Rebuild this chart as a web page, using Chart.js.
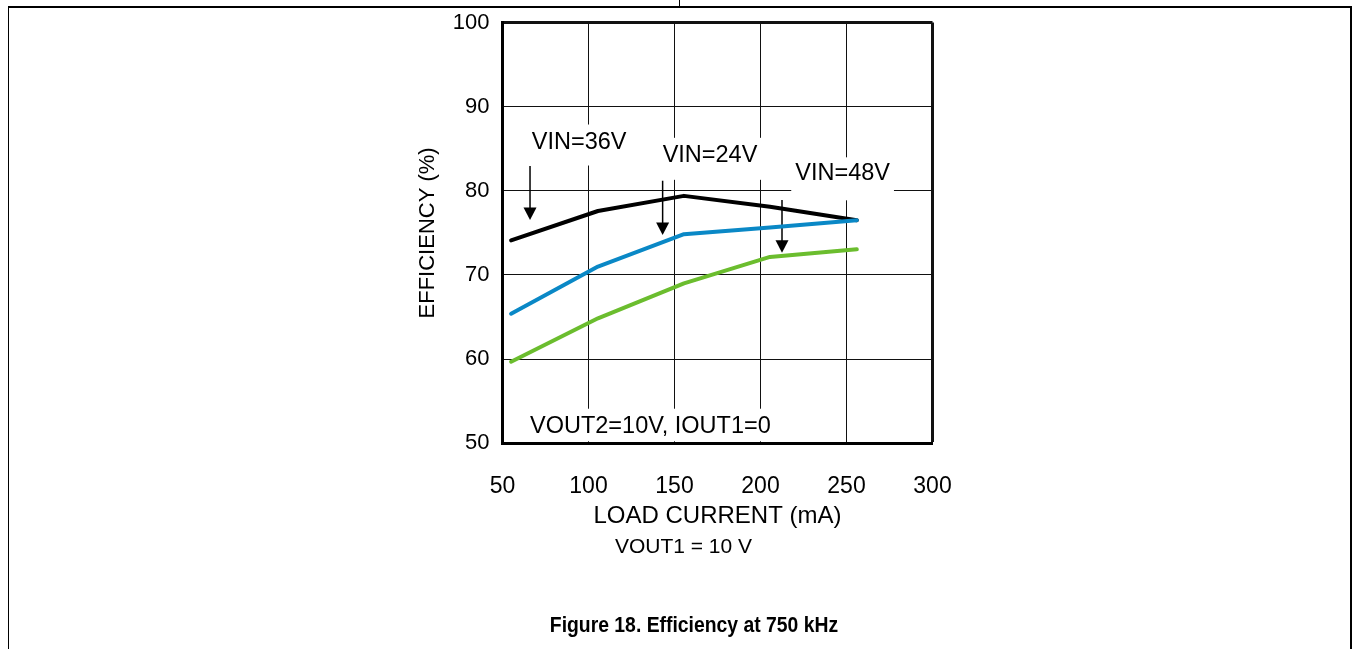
<!DOCTYPE html>
<html><head><meta charset="utf-8">
<script src="https://cdn.jsdelivr.net/npm/chart.js@4.4.1/dist/chart.umd.min.js"></script>
<style>
html,body{margin:0;padding:0;background:#fff;}
#wrap{position:relative;width:1357px;height:649px;overflow:hidden;background:#fff;font-family:"Liberation Sans",Arial,sans-serif;}
#c{position:absolute;left:0;top:0;}
.ln{position:absolute;background:#000;}
.txt{position:absolute;white-space:nowrap;color:#000;line-height:1;}
</style></head><body>
<div id="wrap">
<canvas id="c" width="1357" height="649"></canvas>
<div class="ln" style="left:8px;top:6px;width:1343px;height:1.5px"></div>
<div class="ln" style="left:678.5px;top:0;width:1.2px;height:7px"></div>
<div class="ln" style="left:7.5px;top:6px;width:1.5px;height:643px"></div>
<div class="ln" style="left:1350px;top:6px;width:1.5px;height:643px"></div>
<div class="txt" style="left:683.5px;top:545px;font-size:21px;transform:translate(-50%,-50%)">VOUT1 = 10 V</div>
<div class="txt" style="left:694px;top:625px;font-size:22px;font-weight:bold;transform:translate(-50%,-50%) scaleX(0.88)">Figure 18. Efficiency at 750 kHz</div>
</div>
<script>
// ---- data ----
const loadCurrent = [55, 105.5, 155.5, 205.5, 256];          // mA
const effVin24 = [65.4, 71.0, 74.85, 75.65, 76.5];            // %
const effVin36 = [74.1, 77.6, 79.4, 78.1, 76.5];              // %
const effVin48 = [59.7, 64.85, 69.0, 72.15, 73.05];           // %
const xTickValues = [50, 100, 150, 200, 250, 300];
const yTickValues = [50, 60, 70, 80, 90, 100];
const seriesNames = ['VIN=24V', 'VIN=36V', 'VIN=48V'];

// annotation anchors in data units
const labels = [
  {text: 'VIN=36V', x: 67.0, y: 85.74, padT: 18, padB: 23},
  {text: 'VIN=24V', x: 143.1, y: 84.16, padT: 18, padB: 24},
  {text: 'VIN=48V', x: 220.2, y: 82.08, padT: 16, padB: 27},
  {text: 'VOUT2=10V, IOUT1=0', x: 66.0, y: 51.97, padT: 18, padB: 30}
];
const arrows = [
  {x: 66.0, from: 82.95, to: 76.53},
  {x: 143.1, from: 81.2, to: 74.75},
  {x: 212.5, from: 78.9, to: 72.65}
];

const FONT = '"Liberation Sans", Arial, sans-serif';

const annot = {
  id: 'annot',
  beforeDatasetsDraw(chart) {
    const {ctx, scales: {x, y}, chartArea} = chart;
    ctx.save();
    ctx.font = '23.5px ' + FONT;
    ctx.textBaseline = 'middle';
    ctx.textAlign = 'left';
    labels.forEach(l => {
      const px = x.getPixelForValue(l.x), py = y.getPixelForValue(l.y);
      const w = ctx.measureText(l.text).width;
      const top = py - l.padT;
      const bottom = Math.min(py + l.padB, chartArea.bottom - 2);
      ctx.fillStyle = '#fff';
      ctx.fillRect(px - 4, top, w + 8, bottom - top);
      ctx.fillStyle = '#000';
      ctx.fillText(l.text, px, py);
    });
    ctx.strokeStyle = '#000';
    ctx.fillStyle = '#000';
    ctx.lineWidth = 1.5;
    arrows.forEach(a => {
      const px = x.getPixelForValue(a.x);
      const y1 = y.getPixelForValue(a.from), y2 = y.getPixelForValue(a.to);
      ctx.beginPath();
      ctx.moveTo(px, y1);
      ctx.lineTo(px, y2 - 10);
      ctx.stroke();
      ctx.beginPath();
      ctx.moveTo(px - 6.5, y2 - 12.5);
      ctx.lineTo(px + 6.5, y2 - 12.5);
      ctx.lineTo(px, y2);
      ctx.closePath();
      ctx.fill();
    });
    ctx.restore();
  }
};

const pts = arr => loadCurrent.map((v, i) => ({x: v, y: arr[i]}));
const lineStyle = {borderWidth: 4, pointRadius: 0, fill: false, tension: 0, borderCapStyle: 'round', borderJoinStyle: 'round'};

new Chart(document.getElementById('c'), {
  type: 'line',
  data: {
    datasets: [
      Object.assign({label: seriesNames[0], data: pts(effVin24), borderColor: '#0a88c6'}, lineStyle),
      Object.assign({label: seriesNames[1], data: pts(effVin36), borderColor: '#000000'}, lineStyle),
      Object.assign({label: seriesNames[2], data: pts(effVin48), borderColor: '#6bbd2e'}, lineStyle)
    ]
  },
  options: {
    responsive: false,
    animation: false,
    devicePixelRatio: 1,
    layout: {padding: {left: 414, right: 424.5, top: 22.5, bottom: 117}},
    plugins: {legend: {display: false}, tooltip: {enabled: false}},
    scales: {
      x: {
        type: 'linear', min: 50, max: 300,
        afterBuildTicks: s => { s.ticks = xTickValues.map(v => ({value: v})); },
        afterFit: s => { s.height = 88.7; },
        ticks: {color: '#000', font: {family: FONT, size: 23}, padding: 29.5, maxRotation: 0, autoSkip: false},
        grid: {color: '#111', lineWidth: c => (c.tick && c.tick.value === 300) ? 3 : 1, drawTicks: false, tickLength: 0},
        border: {display: true, color: '#000', width: 3},
        title: {display: true, text: 'LOAD CURRENT (mA)', color: '#000', font: {family: FONT, size: 24}, padding: {top: 0, bottom: 1.5}}
      },
      y: {
        type: 'linear', min: 50, max: 100,
        afterBuildTicks: s => { s.ticks = yTickValues.map(v => ({value: v})); },
        afterFit: s => { s.width = 88.5; },
        ticks: {color: '#000', font: {family: FONT, size: 22, lineHeight: 0.8}, padding: 13, autoSkip: false},
        grid: {color: '#111', lineWidth: c => (c.tick && c.tick.value === 100) ? 3 : 1, drawTicks: false, tickLength: 0},
        border: {display: true, color: '#000', width: 3},
        title: {display: true, text: 'EFFICIENCY (%)', color: '#000', font: {family: FONT, size: 22}, padding: {top: 1, bottom: 0}}
      }
    }
  },
  plugins: [annot]
});
</script>
</body></html>
